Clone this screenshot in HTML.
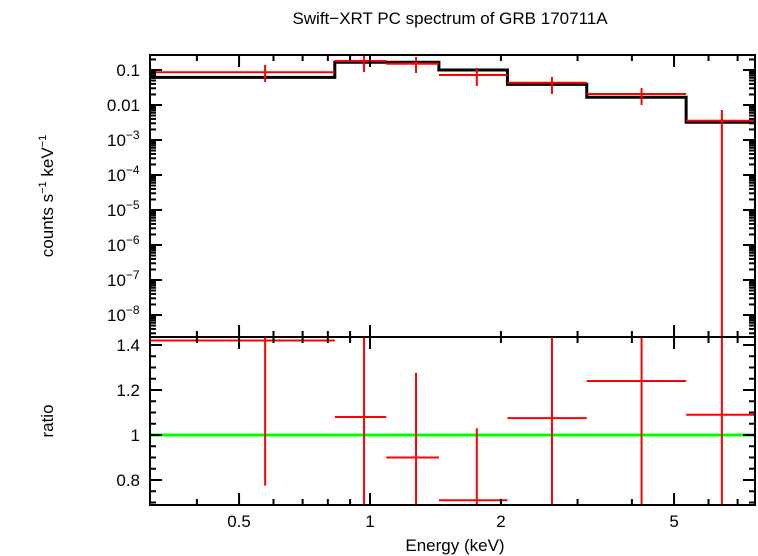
<!DOCTYPE html>
<html><head><meta charset="utf-8"><style>
body{margin:0;background:#fff;}
svg{display:block;font-family:"Liberation Sans",sans-serif;}
</style></head><body>
<svg id="c" width="758" height="556">
<text x="450" y="24" font-size="17" text-anchor="middle">Swift−XRT PC spectrum of GRB 170711A</text>
<text x="455" y="551" font-size="17" text-anchor="middle">Energy (keV)</text>
<text transform="translate(53,196) rotate(-90)" font-size="17" text-anchor="middle">counts s<tspan font-size="11" dy="-7">−1</tspan><tspan dy="7"> keV</tspan><tspan font-size="11" dy="-7">−1</tspan></text>
<text transform="translate(53,421) rotate(-90)" font-size="17" text-anchor="middle">ratio</text>
<g id="g"></g>
</svg>
<script>
const binLo=[0.3,0.83,1.09,1.44,2.07,3.15,5.33];
const binHi=[0.83,1.09,1.44,2.07,3.15,5.33,7.7];
const binCenter=[0.574,0.969,1.276,1.76,2.62,4.21,6.44];
const modelVals=[0.0618,0.166,0.166,0.1,0.039,0.0166,0.00322];
const dataVals=[0.086,0.181,0.151,0.072,0.0434,0.0206,0.00355];
const dataUp=[0.139,0.268,0.235,0.114,0.063,0.0306,0.0072];
const dataLo=[0.0454,0.088,0.082,0.035,0.0206,0.01,1e-12];
const ratioVals=[1.42,1.08,0.9,0.71,1.075,1.24,1.09];
const ratioUp=[1.6,1.6,1.276,1.03,1.6,1.6,1.6];
const ratioLo=[0.775,0.5,0.5,0.5,0.5,0.5,0.5];
const xTickLabels=[0.5,1,2,5];
const yTopTicks=[-1,-2,-3,-4,-5,-6,-7,-8];
const yTopLabels=["0.1","0.01","10|−3","10|−4","10|−5","10|−6","10|−7","10|−8"];
const yBotTicks=[0.8,1,1.2,1.4];

const L=150,R=755,T=55,M=337,B=505;
const X=e=>Math.min(R,Math.max(L,370+435*Math.log10(e)));
const YT=v=>Math.min(M,Math.max(T,70-35*(Math.log10(v)+1)));
const YB=r=>Math.min(B,Math.max(M,435-225*(r-1)));
const g=document.getElementById('g');
const NS='http://www.w3.org/2000/svg';
function mk(t,a){const e=document.createElementNS(NS,t);for(const k in a)e.setAttribute(k,a[k]);g.appendChild(e);return e;}
function line(x1,y1,x2,y2,c,w){return mk('line',{x1,y1,x2,y2,stroke:c,'stroke-width':w});}

let gl=line(L,YB(1),R,YB(1),'#00ff00',3);



let d='';
for(let i=0;i<binLo.length;i++){d+=(i?'L':'M')+X(binLo[i])+','+YT(modelVals[i])+'L'+X(binHi[i])+','+YT(modelVals[i]);}
let mp=mk('path',{d,fill:'none',stroke:'#000','stroke-width':3});



for(let i=0;i<binLo.length;i++){
 const x1=X(binLo[i]),x2=X(binHi[i]),xc=X(binCenter[i]);
 let h=line(x1,YT(dataVals[i]),x2,YT(dataVals[i]),'#ff0000',2);
 
 
 let v=line(xc,YT(dataUp[i]),xc,YT(dataLo[i]),'#ff0000',2);
 
 
 let h2=line(x1,YB(ratioVals[i]),x2,YB(ratioVals[i]),'#ff0000',2);
 
 
 let v2=line(xc,YB(ratioUp[i]),xc,YB(ratioLo[i]),'#ff0000',2);
 
 
}

let f1=mk('rect',{x:L,y:T,width:R-L,height:M-T,fill:'none',stroke:'#000','stroke-width':2});


let f2=mk('rect',{x:L,y:M,width:R-L,height:B-M,fill:'none',stroke:'#000','stroke-width':2});



for(let dec=-1;dec<=0;dec++)for(let k=1;k<10;k++){
 const e=k*Math.pow(10,dec);const x=370+435*Math.log10(e);if(x<L||x>R)continue;
 const len=(k==1||k==5)?12:6;
 line(x,T,x,T+len,'#000',2);line(x,M,x,M-len,'#000',2);line(x,M,x,M+len,'#000',2);line(x,B,x,B-len,'#000',2);
}
xTickLabels.forEach(v=>{let t=mk('text',{x:X(v),y:527,'font-size':17,'text-anchor':'middle'});t.textContent=v;

});

for(let p=-9;p<=-1;p++)for(let k=1;k<10;k++){
 const y=70-35*(Math.log10(k*Math.pow(10,p))+1);if(y<T||y>M)continue;
 const len=k==1?12:6;line(L,y,L+len,y,'#000',2);line(R,y,R-len,y,'#000',2);
}
yTopTicks.forEach((p,i)=>{const y=70-35*(p+1);const s=yTopLabels[i].split('|');
 let t=mk('text',{x:140,y:y+6,'font-size':17,'text-anchor':'end'});
 t.textContent=s[0];
 if(s.length>1){let ts=document.createElementNS(NS,'tspan');ts.setAttribute('font-size','12');ts.setAttribute('dy','-7');ts.textContent=s[1];t.appendChild(ts);t.setAttribute('x','107');t.setAttribute('text-anchor','start');}
 
 
});
for(let r=0.7;r<=1.45;r+=0.05){const y=435-225*(r-1);if(y<M||y>B)continue;
 const maj=Math.abs(r*5-Math.round(r*5))<1e-6;const len=maj?12:6;
 line(L,y,L+len,y,'#000',2);line(R,y,R-len,y,'#000',2);}
yBotTicks.forEach(v=>{let t=mk('text',{x:140,y:YB(v)+6,'font-size':17,'text-anchor':'end'});t.textContent=v;

});
</script>
</body></html>
